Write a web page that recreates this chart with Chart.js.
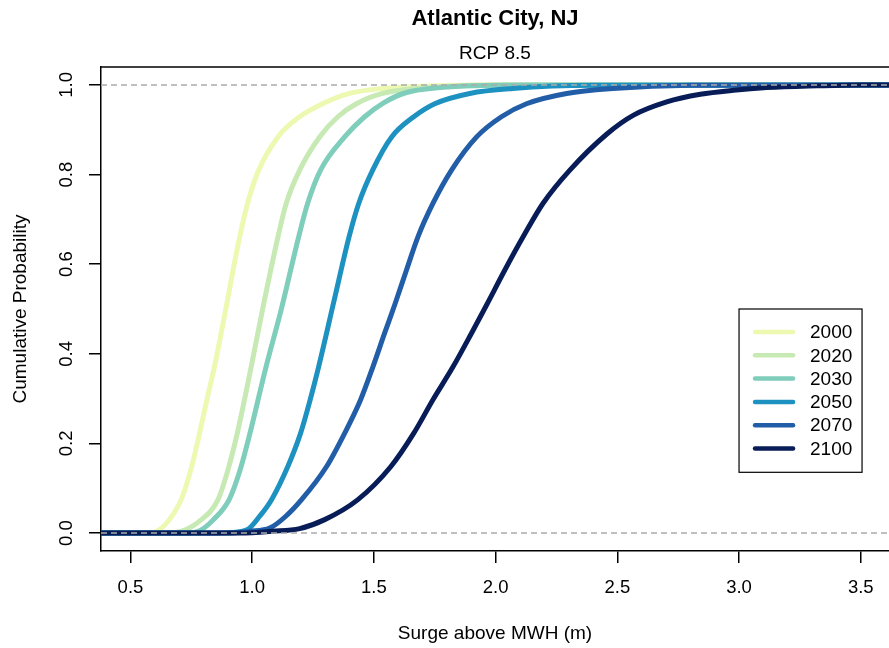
<!DOCTYPE html>
<html>
<head>
<meta charset="utf-8">
<title>Atlantic City, NJ</title>
<script src="https://cdn.jsdelivr.net/npm/chart.js@4.4.1/dist/chart.umd.min.js"></script>
<style>
  html, body { margin: 0; padding: 0; background: #fff; }
  #wrap { width: 889px; height: 648px; }
</style>
</head>
<body>
<div id="wrap"><canvas id="cdfChart" width="889" height="648"></canvas></div>
<script>
// series labels + colours (YlGnBu)
const years = ['2000', '2020', '2030', '2050', '2070', '2100'];
const colors = ['#edf8b1', '#c7e9b4', '#7fcdbb', '#1d91c0', '#225ea8', '#081d58'];

// surge (m) and cumulative probability
const x2000 = [0.30, 0.58, 0.62, 0.66, 0.708, 0.75, 0.784, 0.815, 0.845, 0.891, 0.937, 0.976, 1.023, 1.106, 1.195, 1.289, 1.40, 1.536, 1.70, 1.90, 3.70];
const p2000 = [0, 0, 0.008, 0.03, 0.074, 0.145, 0.223, 0.30, 0.371, 0.498, 0.63, 0.725, 0.805, 0.884, 0.929, 0.958, 0.981, 0.992, 0.997, 1, 1];

const x2020 = [0.30, 0.66, 0.714, 0.78, 0.859, 0.90, 0.939, 0.996, 1.043, 1.106, 1.140, 1.195, 1.277, 1.352, 1.428, 1.536, 1.70, 2.0, 3.70];
const p2020 = [0, 0, 0.005, 0.025, 0.074, 0.14, 0.223, 0.371, 0.50, 0.661, 0.736, 0.81, 0.884, 0.929, 0.958, 0.981, 0.993, 1, 1];

const x2030 = [0.30, 0.74, 0.784, 0.841, 0.905, 0.950, 0.991, 1.057, 1.119, 1.191, 1.228, 1.281, 1.380, 1.462, 1.540, 1.627, 1.771, 2.1, 3.70];
const p2030 = [0, 0, 0.005, 0.03, 0.074, 0.14, 0.223, 0.371, 0.498, 0.661, 0.736, 0.81, 0.884, 0.929, 0.96, 0.982, 0.994, 1, 1];

const x2050 = [0.30, 0.85, 0.907, 0.981, 1.030, 1.079, 1.146, 1.199, 1.238, 1.273, 1.337, 1.398, 1.438, 1.495, 1.573, 1.664, 1.750, 1.894, 2.071, 2.4, 3.70];
const p2050 = [0, 0, 0.001, 0.008, 0.037, 0.074, 0.148, 0.223, 0.297, 0.371, 0.52, 0.661, 0.736, 0.81, 0.884, 0.929, 0.958, 0.981, 0.992, 0.999, 1];

const x2070 = [0.30, 0.90, 0.989, 1.072, 1.137, 1.202, 1.305, 1.380, 1.445, 1.496, 1.544, 1.586, 1.634, 1.681, 1.743, 1.819, 1.922, 2.024, 2.127, 2.292, 2.482, 2.8, 3.70];
const p2070 = [0, 0, 0.004, 0.011, 0.037, 0.074, 0.148, 0.223, 0.297, 0.371, 0.446, 0.51, 0.587, 0.661, 0.736, 0.81, 0.884, 0.929, 0.958, 0.981, 0.992, 0.999, 1];

const x2100 = [0.30, 0.95, 1.084, 1.195, 1.298, 1.433, 1.569, 1.664, 1.742, 1.825, 1.901, 1.964, 2.038, 2.113, 2.195, 2.305, 2.456, 2.565, 2.703, 2.841, 2.977, 3.114, 3.320, 3.5, 3.70];
const p2100 = [0, 0, 0.004, 0.01, 0.03, 0.074, 0.148, 0.223, 0.297, 0.371, 0.446, 0.51, 0.587, 0.661, 0.736, 0.81, 0.89, 0.932, 0.962, 0.979, 0.988, 0.994, 0.998, 1, 1];

const xTicks = [0.5, 1.0, 1.5, 2.0, 2.5, 3.0, 3.5];
const xTickLabels = ['0.5', '1.0', '1.5', '2.0', '2.5', '3.0', '3.5'];
const yTicks = [0, 0.2, 0.4, 0.6, 0.8, 1.0];
const yTickLabels = ['0.0', '0.2', '0.4', '0.6', '0.8', '1.0'];
const refLines = [0, 1];

const surge = [x2000, x2020, x2030, x2050, x2070, x2100];
const prob = [p2000, p2020, p2030, p2050, p2070, p2100];

const FONT = '"Liberation Sans", Arial, Helvetica, sans-serif';
Chart.defaults.font.family = FONT;
Chart.defaults.color = '#000';

// y tick labels are rotated like in R, chart.js can't rotate them on a vertical axis
const yLabels = {
    id: 'yLabels',
    afterDraw(chart) {
        const ctx = chart.ctx;
        const ys = chart.scales.y;
        ctx.save();
        ctx.font = '18.5px ' + FONT;
        ctx.fillStyle = '#000';
        ctx.textAlign = 'center';
        ctx.textBaseline = 'alphabetic';
        yTicks.forEach((v, i) => {
            ctx.save();
            ctx.translate(chart.chartArea.left - 29, ys.getPixelForValue(v));
            ctx.rotate(-Math.PI / 2);
            ctx.fillText(yTickLabels[i], 0, 0);
            ctx.restore();
        });
        ctx.restore();
    }
};

// dashed lines at 0 and 1 + top of the box
const extras = {
    id: 'extras',
    afterDatasetsDraw(chart) {
        const ctx = chart.ctx;
        const area = chart.chartArea;
        const ys = chart.scales.y;
        ctx.save();
        ctx.strokeStyle = '#aaaaaa';
        ctx.lineWidth = 1.5;
        ctx.setLineDash([6, 4]);
        refLines.forEach(v => {
            const py = ys.getPixelForValue(v);
            ctx.beginPath();
            ctx.moveTo(area.left, py);
            ctx.lineTo(area.right, py);
            ctx.stroke();
        });
        ctx.setLineDash([]);
        ctx.strokeStyle = '#000';
        ctx.beginPath();
        ctx.moveTo(area.left, area.top);
        ctx.lineTo(area.right, area.top);
        ctx.stroke();
        ctx.restore();
    }
};

// R style boxed legend, top-left corner at (3.0, 0.5)
const boxLegend = {
    id: 'boxLegend',
    afterDraw(chart) {
        const ctx = chart.ctx;
        const left = chart.scales.x.getPixelForValue(3.0);
        const top = chart.scales.y.getPixelForValue(0.5);
        const w = 123, rowH = 23.3;
        const h = rowH * years.length + 23.5;
        ctx.save();
        ctx.fillStyle = '#fff';
        ctx.fillRect(left, top, w, h);
        ctx.strokeStyle = '#000';
        ctx.lineWidth = 1.2;
        ctx.strokeRect(left, top, w, h);
        ctx.font = '19px ' + FONT;
        ctx.textAlign = 'left';
        ctx.textBaseline = 'middle';
        chart.data.datasets.forEach((ds, i) => {
            const cy = top + 23 + i * rowH;
            ctx.strokeStyle = ds.borderColor;
            ctx.lineWidth = 4.5;
            ctx.lineCap = 'round';
            ctx.beginPath();
            ctx.moveTo(left + 16, cy);
            ctx.lineTo(left + 54, cy);
            ctx.stroke();
            ctx.fillStyle = '#000';
            ctx.fillText(ds.label, left + 71, cy + 1);
        });
        ctx.restore();
    }
};

const ctx = document.getElementById('cdfChart').getContext('2d');

new Chart(ctx, {
    type: 'line',
    data: {
        datasets: years.map((yr, i) => ({
            label: yr,
            data: surge[i].map((x, j) => ({ x: x, y: prob[i][j] })),
            borderColor: colors[i],
            backgroundColor: colors[i],
            borderWidth: 5,
            pointRadius: 0,
            fill: false,
            cubicInterpolationMode: 'monotone',
            borderCapStyle: 'round',
            borderJoinStyle: 'round',
            clip: 0,
            order: years.length - 1 - i
        }))
    },
    options: {
        responsive: false,
        animation: false,
        layout: { padding: 0 },
        plugins: {
            legend: { display: false },
            tooltip: { enabled: false },
            title: {
                display: true,
                text: 'Atlantic City, NJ',
                fullSize: false,
                font: { size: 22, weight: 'bold' },
                padding: { top: 5.8, bottom: 5 }
            },
            subtitle: {
                display: true,
                text: 'RCP 8.5',
                fullSize: false,
                font: { size: 19 },
                padding: { top: 5.5, bottom: 1.5 }
            }
        },
        scales: {
            x: {
                type: 'linear',
                min: 0.379,
                max: 3.616,
                afterBuildTicks: s => { s.ticks = xTicks.map(v => ({ value: v })); },
                afterFit: s => { s.height = 97; },
                ticks: {
                    autoSkip: false,
                    maxRotation: 0,
                    padding: 14,
                    font: { size: 18.5 },
                    callback: (v, i) => xTickLabels[i]
                },
                grid: { drawOnChartArea: false, drawTicks: true, tickLength: 12, color: '#000', lineWidth: 1.5 },
                border: { display: true, color: '#000', width: 1.5 },
                title: {
                    display: true,
                    text: 'Surge above MWH (m)',
                    font: { size: 19 },
                    padding: { top: 0, bottom: 3.3 }
                }
            },
            y: {
                type: 'linear',
                min: -0.04,
                max: 1.04,
                afterBuildTicks: s => { s.ticks = yTicks.map(v => ({ value: v })); },
                afterFit: s => { s.width = 101; },
                ticks: { display: false },
                grid: { drawOnChartArea: false, drawTicks: true, tickLength: 12, color: '#000', lineWidth: 1.5 },
                border: { display: true, color: '#000', width: 1.5 },
                title: {
                    display: true,
                    text: 'Cumulative Probability',
                    font: { size: 19 },
                    padding: { top: 8.9, bottom: 0 }
                }
            }
        }
    },
    plugins: [extras, yLabels, boxLegend]
});
</script>
</body>
</html>
